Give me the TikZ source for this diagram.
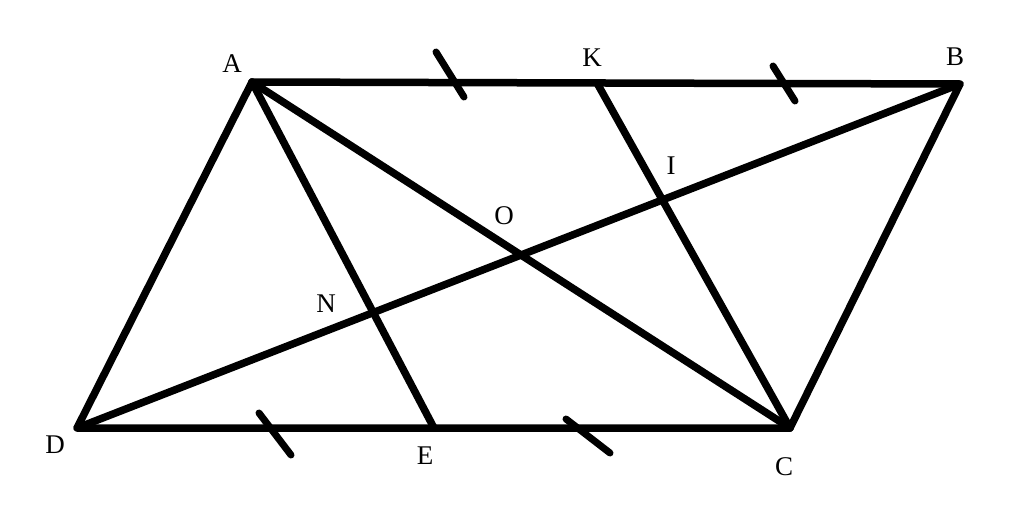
\documentclass[tikz,border=0pt]{standalone}
\usepackage{fontspec}
\setmainfont{Liberation Serif}
\begin{document}
\begin{tikzpicture}[x=1pt,y=-1pt,
  seg/.style={line width=7.5pt,line cap=round,line join=round},
  tick/.style={line width=7pt,line cap=round},
  lbl/.style={font=\fontsize{27}{27}\selectfont,inner sep=0pt}]
\useasboundingbox (0,0) rectangle (1024,530);
\coordinate (A) at (252,82);
\coordinate (B) at (960,84);
\coordinate (C) at (790,428);
\coordinate (D) at (77,428);
\coordinate (K) at (597,83);
\coordinate (E) at (434,428);
\draw[seg] (A) -- (B) -- (C) -- (D) -- cycle;
\draw[seg] (A) -- (C);
\draw[seg] (B) -- (D);
\draw[seg] (A) -- (E);
\draw[seg] (K) -- (C);
\coordinate (t1a) at (436,52); \coordinate (t1b) at (464,97);
\coordinate (t2a) at (773,66); \coordinate (t2b) at (795,101);
\coordinate (t3a) at (259,413); \coordinate (t3b) at (291,455);
\coordinate (t4a) at (566,419); \coordinate (t4b) at (610,453);
\draw[tick] (t1a) -- (t1b);
\draw[tick] (t2a) -- (t2b);
\draw[tick] (t3a) -- (t3b);
\draw[tick] (t4a) -- (t4b);
\node[lbl] (lA) at (232,64) {A};
\node[lbl] (lB) at (955,57) {B};
\node[lbl] (lK) at (592,58) {K};
\node[lbl] (lI) at (671,166) {I};
\node[lbl] (lO) at (504,216) {O};
\node[lbl] (lN) at (326,304) {N};
\node[lbl] (lD) at (55,445) {D};
\node[lbl] (lE) at (425,456) {E};
\node[lbl] (lC) at (784,467) {C};
\end{tikzpicture}
\end{document}
